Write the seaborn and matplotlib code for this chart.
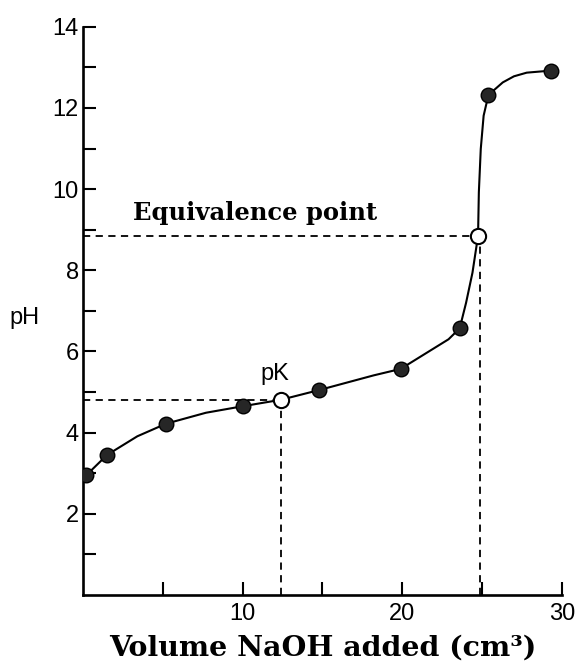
import matplotlib
matplotlib.use("Agg")
import matplotlib.pyplot as plt
import seaborn as sns
import pandas as pd

# -----------------------------
# Data
# -----------------------------
vol_points = [0.2, 1.5, 5.2, 10.0, 14.8, 19.9, 23.6, 25.4, 29.3]
ph_points = [2.95, 3.45, 4.22, 4.65, 5.05, 5.57, 6.57, 12.32, 12.92]

# open circles: pK (half-equivalence) and equivalence point
vol_marks = [12.4, 24.75]
ph_marks = [4.81, 8.85]

# traced points along the smooth drawn curve
vol_curve = [0.2, 1.5, 3.4, 5.2, 7.7, 10.0, 12.4, 14.8, 18.2, 19.9, 22.9,
             23.6, 24.0, 24.4, 24.75, 24.8, 24.92, 25.1, 25.4, 26.3, 27.0, 27.8, 29.3]
ph_curve = [2.95, 3.45, 3.91, 4.22, 4.49, 4.65, 4.81, 5.05, 5.41, 5.57, 6.3,
            6.57, 7.2, 7.94, 8.85, 9.92, 10.99, 11.81, 12.32, 12.63, 12.78, 12.87, 12.92]

x_ticks = [5, 10, 15, 20, 25, 30]
x_labels = ["", "10", "", "20", "", "30"]
y_ticks = list(range(1, 15))
y_labels = [str(v) if v % 2 == 0 else "" for v in y_ticks]

curve = pd.DataFrame({"vol": vol_curve, "ph": ph_curve})
pts = pd.DataFrame({"vol": vol_points, "ph": ph_points})
marks = pd.DataFrame({"vol": vol_marks, "ph": ph_marks})

# -----------------------------
# Style
# -----------------------------
sns.set_style("ticks")
plt.rcParams["font.family"] = ["Liberation Sans", "DejaVu Sans"]
plt.rcParams["text.color"] = "black"
plt.rcParams["axes.labelcolor"] = "black"
plt.rcParams["xtick.color"] = "black"
plt.rcParams["ytick.color"] = "black"

serif = ["DejaVu Serif", "Liberation Serif"]

fig = plt.figure(figsize=(5.81, 6.70), dpi=100)
ax = fig.add_axes([0.143, 0.112, 0.824, 0.848])

# dashed guide lines
dash = dict(ls=(0, (4, 3)), color="black", lw=1.3)
ax.plot([0, vol_marks[0]], [ph_marks[0], ph_marks[0]], **dash)
ax.plot([vol_marks[0], vol_marks[0]], [0, ph_marks[0]], **dash)
ax.plot([0, vol_marks[1]], [ph_marks[1], ph_marks[1]], **dash)
ax.plot([vol_marks[1] + 0.12, vol_marks[1] + 0.12], [0, ph_marks[1]], **dash)

# titration curve
sns.lineplot(data=curve, x="vol", y="ph", sort=False, color="black", lw=1.5, ax=ax)

sns.scatterplot(data=pts, x="vol", y="ph", s=110, color="#262626",
                edgecolor="black", linewidth=1, zorder=5, ax=ax)
sns.scatterplot(data=marks, x="vol", y="ph", s=120, color="white",
                edgecolor="black", linewidth=1.5, zorder=6, ax=ax)

ax.set_xlim(0, 30)
ax.set_ylim(0, 14)
ax.set_xticks(x_ticks)
ax.set_xticklabels(x_labels)
ax.set_yticks(y_ticks)
ax.set_yticklabels(y_labels)
ax.tick_params(direction="in", length=9.5, width=1.5, labelsize=17, pad=6)
ax.tick_params(axis="y", pad=3)

for side in ["top", "right"]:
    ax.spines[side].set_visible(False)
for side in ["left", "bottom"]:
    ax.spines[side].set_linewidth(1.9)
    ax.spines[side].set_color("black")

ax.set_xlabel("Volume NaOH added (cm³)", family=serif,
              fontweight="bold", fontsize=20.5, labelpad=7)
ax.set_ylabel("")
fig.text(0.017, 0.525, "pH", fontsize=17, ha="left", va="center")

ax.text(12.0, 5.45, "pK", fontsize=17, ha="center", va="center")
ax.text(3.1, 9.4, "Equivalence point", family=serif,
        fontweight="bold", fontsize=17.5, ha="left", va="center")

fig.savefig("out.png", dpi=100)
